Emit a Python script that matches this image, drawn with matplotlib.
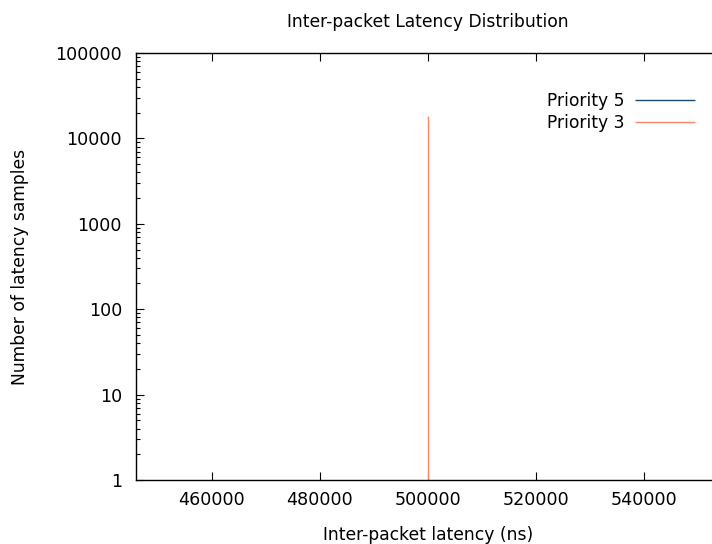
import matplotlib
matplotlib.use("Agg")
import matplotlib.pyplot as plt
from matplotlib.ticker import LogLocator, FixedLocator

# data
series_names = ["Priority 5", "Priority 3"]
series_colors = ["#1f4a6e", "#f8876c"]
p5_latency = []
p5_counts = []
p3_latency = [500000]
p3_counts = [18500]

x_ticks = [460000, 480000, 500000, 520000, 540000]
y_ticks = [1, 10, 100, 1000, 10000, 100000]

plt.rcParams["font.family"] = ["DejaVu Sans"]
plt.rcParams["font.size"] = 12.3

fig = plt.figure(figsize=(7.12, 5.44), dpi=100)
W, H = 712, 544
left, right, top, bottom = 136, 720, 53, 480
ax = fig.add_axes([left / W, 1 - bottom / H, (right - left) / W, (bottom - top) / H])

ax.vlines(p5_latency, 1, p5_counts, color=series_colors[0], lw=1.0, label=series_names[0])
ax.vlines(p3_latency, 1, p3_counts, color=series_colors[1], lw=1.0, label=series_names[1])

ax.set_yscale("log")
ax.set_ylim(1, 100000)
ax.set_xlim(445926, 554074)
ax.xaxis.set_major_locator(FixedLocator(x_ticks))
ax.yaxis.set_major_locator(FixedLocator(y_ticks))
ax.yaxis.set_minor_locator(LogLocator(base=10, subs=range(2, 10)))
ax.set_xticklabels([str(v) for v in x_ticks])
ax.set_yticklabels([str(v) for v in y_ticks])

ax.tick_params(which="both", direction="in", top=True, right=True, width=0.8,
               labelsize=12.6)
ax.tick_params(which="major", length=6)
ax.tick_params(which="minor", length=3)
ax.tick_params(axis="y", pad=10)
ax.tick_params(axis="x", pad=8)
for s in ax.spines.values():
    s.set_linewidth(1.0)

ax.set_xlabel("Inter-packet latency (ns)")
ax.set_ylabel("Number of latency samples")
ax.xaxis.set_label_coords(0.5, (480 - 526) / 427)
ax.yaxis.set_label_coords((29 - 136) / 584, 0.5)
ax.set_title("Inter-packet Latency Distribution", fontsize=12.3, pad=19)

ax.legend(loc="upper right", bbox_to_anchor=(695 / W, 1 - 92 / H),
          bbox_transform=fig.transFigure, frameon=False, markerfirst=False,
          handlelength=3.5, handletextpad=0.6, labelspacing=0.22,
          borderpad=0, borderaxespad=0)

fig.savefig("out.png", dpi=100)
